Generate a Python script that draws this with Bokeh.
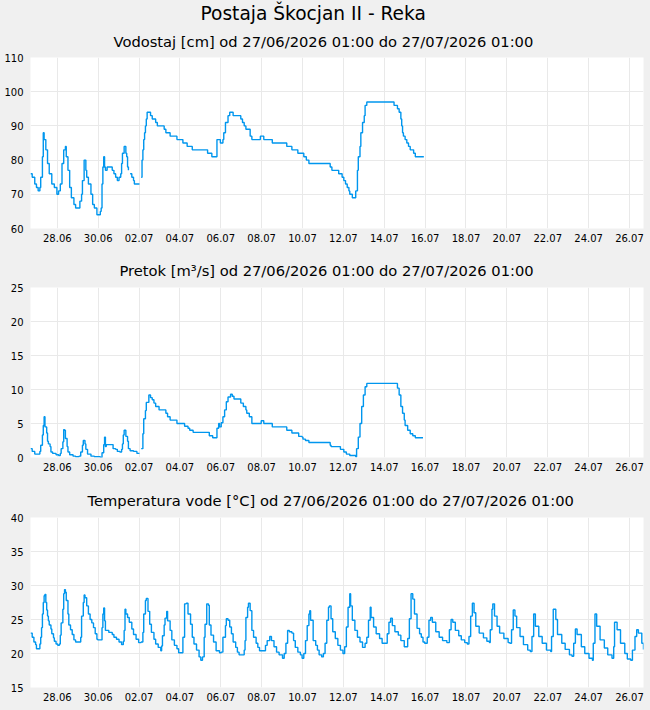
import pandas as pd
from bokeh.plotting import figure
from bokeh.layouts import column
from bokeh.models import Title, FixedTicker, DatetimeTickFormatter, Range1d, ColumnDataSource
from bokeh.embed import file_html
from bokeh.resources import INLINE

# --- labels -----------------------------------------------------------------
station = "Postaja Škocjan II - Reka"
period = "od 27/06/2026 01:00 do 27/07/2026 01:00"
panel_titles = ["Vodostaj [cm]", "Pretok [m³/s]", "Temperatura vode [°C]"]

t_start = pd.Timestamp("2026-06-27 01:00")
t_end = pd.Timestamp("2026-07-27 01:00")
tick_dates = pd.date_range("2026-06-28 08:30", "2026-07-26 08:30", freq="2D")

# --- water level [cm]: hours since t_start, value (None = missing reading) --
level_hours = [0, 2, 5, 7, 9, 11, 12, 14, 15, 16, 18, 20, 22, 25, 28, 31, 33, 35, 37, 39,
               41, 42, 44, 46, 48, 51, 53, 56, 58, 60, 61, 63, 65, 66, 68, 71, 73, 75, 78, 80,
               82, 83, 84, 85, 86, 87, 88, 90, 94, 96, 98, 100, 102, 104, 106, 107, 108, 110, 112, 113,
               114, 115, 116, 117, 119, 121, 122, 128, 129, 130, 131, 132, 133, 134, 135, 136, 137, 140, 141, 143,
               147, 149, 157, 159, 164, 172, 179, 184, 190, 208, 213, 219, 221, 223, 226, 227, 229, 232, 234, 236,
               238, 245, 247, 249, 251, 253, 258, 260, 270, 274, 284, 301, 307, 314, 321, 324, 327, 352, 354, 362,
               366, 368, 370, 372, 374, 375, 378, 382, 384, 385, 387, 388, 390, 392, 393, 395, 427, 431, 433, 435,
               436, 437, 438, 440, 442, 444, 446, 450, 452, 462]
level_values = [76, 75, 73, 72, 71, 72, 75, 81, 88, 86, 83, 79, 76, 73, 72, 70, 71, 73, 79, 83,
                84, 81, 77, 72, 69, 67, 66, 66, 68, 70, 74, 80, 77, 75, 73, 70, 67, 66, 64, 64,
                65, 66, 73, 78, 81, 78, 77, 78, 78, 77, 76, 75, 74, 75, 76, 79, 82, 84, 82, 81,
                78, 77, None, 76, 75, 74, 73, 73, None, 75, 80, 83, 86, 88, 90, 92, 94, 94, 93, 92,
                91, 90, 89, 88, 87, 86, 85, 84, 83, 82, 81, 86, 86, 85, 86, 88, 91, 93, 94, 94,
                93, 93, 92, 91, 90, 89, 87, 86, 87, 86, 85, 84, 83, 82, 81, 80, 79, 78, 77, 76,
                75, 74, 73, 72, 71, 70, 69, 71, 77, 81, 84, 88, 91, 93, 96, 97, 96, 95, 94, 92,
                90, 88, 87, 86, 85, 84, 83, 82, 81, 81]

# --- discharge [m3/s] ---------------------------------------------------------
flow_hours = [0, 2, 5, 10, 11, 12, 14, 15, 16, 17, 19, 20, 21, 23, 24, 26, 30, 33, 35, 36,
              38, 39, 40, 41, 43, 44, 46, 50, 53, 57, 59, 61, 62, 64, 65, 67, 71, 75, 82, 84,
              86, 87, 88, 89, 95, 97, 100, 102, 105, 107, 108, 109, 110, 112, 114, 115, 117, 121, 125, 128,
              129, 130, 132, 133, 135, 136, 139, 141, 143, 145, 147, 151, 159, 161, 164, 172, 181, 185, 187, 191,
              210, 214, 219, 221, 222, 224, 226, 228, 230, 232, 235, 237, 239, 247, 250, 253, 254, 257, 260, 271,
              274, 284, 301, 307, 315, 319, 320, 323, 327, 352, 353, 364, 368, 371, 375, 382, 383, 385, 387, 389,
              391, 393, 395, 431, 433, 435, 437, 439, 440, 443, 446, 449, 452, 461]
flow_values = [1.3, 0.9, 0.5, 0.5, 0.9, 1.8, 3.3, 4.7, 6.0, 4.5, 3.6, 2.4, 2.0, 1.6, 0.8, 0.6, 0.4, 0.3, 0.6, 1.3,
               2.3, 4.1, 4.0, 2.8, 1.6, 0.8, 0.4, 0.2, 0.1, 0.2, 0.8, 1.8, 2.5, 2.0, 1.2, 0.5, 0.2, 0.1, 0.0, 0.7,
               1.9, 3.0, 1.6, 1.9, 1.9, 1.3, 1.2, 0.9, 0.8, 1.2, 2.0, 3.3, 4.0, 3.1, 2.4, 1.3, 1.0, 0.9, 0.6, 0.6,
               None, 1.3, 3.5, 5.7, 6.9, 8.1, 9.2, 8.8, 8.5, 8.0, 7.5, 7.0, 6.5, 6.0, 5.5, 5.0, 4.6, 4.3, 4.0, 3.7,
               3.2, 2.9, 4.3, 5.0, 4.5, 5.1, 6.0, 7.0, 8.2, 8.9, 9.3, 9.0, 8.6, 8.0, 7.5, 7.0, 6.5, 6.0, 5.0, 5.4,
               5.0, 4.5, 4.0, 3.6, 3.1, 3.0, 2.7, 2.5, 2.2, 1.8, 1.6, 1.2, 0.8, 0.5, 0.3, 0.1, 1.3, 3.0, 5.0, 7.5,
               9.2, 10.4, 10.9, 10.2, 9.2, 7.5, 6.5, 5.5, 4.7, 4.0, 3.5, 3.2, 2.9, 2.9]

# --- water temperature [°C] ----------------------------------------------------
temp_hours = [0, 2, 4, 6, 7, 11, 12, 13, 14, 15, 16, 17, 18, 19, 20, 21, 22, 24, 25, 27,
              28, 30, 32, 34, 35, 36, 38, 39, 40, 41, 42, 44, 45, 47, 49, 51, 53, 59, 60, 62,
              63, 64, 66, 68, 70, 72, 74, 76, 78, 79, 84, 85, 86, 87, 88, 92, 96, 98, 101, 104,
              107, 109, 110, 111, 112, 114, 116, 119, 121, 124, 127, 130, 132, 133, 135, 136, 138, 140, 142, 145,
              147, 150, 153, 154, 155, 157, 158, 160, 161, 164, 166, 169, 172, 174, 179, 181, 183, 185, 188, 190,
              192, 195, 198, 200, 202, 204, 205, 207, 209, 210, 212, 215, 218, 222, 224, 226, 229, 230, 232, 234,
              236, 238, 241, 243, 245, 251, 252, 253, 255, 256, 258, 260, 262, 265, 267, 269, 276, 278, 281, 283,
              286, 289, 292, 296, 298, 300, 302, 304, 307, 309, 311, 314, 317, 319, 321, 323, 325, 327, 328, 329,
              332, 335, 337, 339, 342, 344, 346, 348, 350, 351, 353, 355, 358, 361, 364, 367, 369, 371, 373, 375,
              376, 378, 381, 384, 387, 390, 393, 395, 397, 399, 400, 403, 406, 410, 413, 419, 421, 423, 425, 428,
              432, 435, 439, 443, 445, 447, 449, 451, 454, 457, 459, 461, 463, 466, 468, 470, 472, 476, 480, 484,
              489, 492, 494, 496, 499, 503, 506, 510, 513, 515, 517, 519, 521, 523, 527, 532, 536, 539, 540, 542,
              543, 545, 548, 551, 556, 561, 563, 565, 567, 569, 571, 575, 579, 584, 587, 589, 591, 593, 597, 601,
              606, 611, 612, 614, 617, 619, 624, 628, 633, 636, 638, 640, 642, 647, 651, 656, 660, 661, 663, 665,
              669, 674, 678, 683, 685, 686, 689, 693, 698, 701, 705, 707, 710, 712, 714, 718, 720]
temp_values = [23.0, 22.4, 21.7, 21.3, 20.7, 21.4, 22.4, 23.8, 25.8, 27.5, 28.5, 28.7, 27.5, 26.4, 25.5, 24.8, 24.2, 23.6, 22.9, 22.3,
               21.8, 21.4, 21.2, 21.4, 22.7, 24.5, 26.5, 28.8, 29.4, 29.0, 27.8, 25.8, 24.2, 23.5, 22.8, 22.0, 21.7, 22.4, 25.5, 27.5,
               28.6, 28.2, 27.0, 25.8, 25.0, 24.5, 23.8, 22.9, 22.1, 22.0, 23.8, 25.8, 26.7, 24.8, 23.4, 23.1, 22.8, 22.4, 22.1, 21.7,
               21.3, 21.8, 23.4, 26.5, 25.8, 25.3, 24.6, 23.6, 22.8, 22.1, 21.6, 21.7, 23.1, 25.8, 27.8, 28.1, 26.2, 24.3, 23.1, 22.1,
               21.4, 20.9, 20.4, 21.1, 22.6, 24.2, 25.2, 26.2, 24.8, 23.4, 22.0, 21.2, 20.7, 20.1, 22.4, 27.3, 27.4, 25.8, 24.3, 22.4,
               21.4, 20.5, 19.5, 19.0, 19.5, 22.4, 24.3, 27.3, 27.1, 24.2, 22.7, 21.7, 20.4, 20.1, 20.2, 22.4, 24.1, 25.1, 24.9, 23.9,
               22.9, 21.7, 20.9, 20.2, 19.8, 20.5, 21.9, 25.3, 26.8, 27.4, 26.3, 23.4, 22.4, 21.5, 20.9, 20.4, 21.2, 21.9, 22.5, 21.9,
               21.0, 20.2, 19.8, 19.3, 20.0, 21.5, 23.4, 23.2, 23.0, 21.9, 20.9, 20.2, 19.8, 19.3, 20.0, 21.9, 24.1, 25.8, 26.3, 24.9,
               21.9, 21.2, 20.5, 19.8, 19.5, 20.0, 21.5, 24.9, 26.8, 27.0, 25.1, 23.2, 22.2, 21.2, 20.5, 20.0, 21.0, 23.9, 26.8, 28.8,
               27.0, 24.9, 23.4, 22.4, 21.7, 20.9, 21.5, 22.4, 24.9, 26.8, 25.3, 23.9, 22.9, 22.2, 21.5, 22.9, 24.6, 25.2, 24.1, 23.2,
               22.7, 21.9, 21.0, 22.2, 25.1, 28.8, 28.0, 25.8, 23.7, 22.9, 22.4, 21.7, 21.5, 22.4, 24.9, 25.3, 24.6, 23.2, 22.4, 21.9,
               21.6, 23.5, 25.0, 24.6, 23.4, 22.6, 22.0, 21.6, 21.4, 22.5, 25.5, 27.4, 26.0, 24.0, 23.0, 22.3, 21.8, 21.6, 23.5, 26.5,
               27.3, 25.5, 24.0, 23.0, 22.2, 21.6, 21.5, 23.5, 26.4, 25.5, 23.8, 22.5, 21.3, 20.5, 20.3, 22.5, 25.8, 24.0, 22.5, 21.5,
               20.5, 20.3, 22.5, 26.5, 25.0, 22.8, 21.5, 20.6, 19.8, 19.6, 21.5, 23.6, 22.8, 21.0, 20.0, 19.3, 19.0, 21.5, 25.8, 24.0,
               22.0, 20.8, 19.8, 19.3, 21.0, 24.6, 23.5, 21.5, 20.0, 19.2, 19.0, 20.5, 22.5, 23.5, 23.0, 21.5, 20.6]

y_ranges = [(60, 110), (0, 25), (15, 40)]
y_steps = [10, 5, 5]

LINE = "#0096ee"
BG = "#f0f0f0"
GRID = "#e9e9e9"
FONT = "DejaVu Sans"


def segments(hours, values):
    """Split a series at missing readings into continuous runs."""
    runs, xs, ys = [], [], []
    for h, v in zip(hours, values):
        if v is None:
            if xs:
                runs.append((xs, ys))
            xs, ys = [], []
            continue
        xs.append(t_start + pd.Timedelta(hours=h))
        ys.append(v)
    if xs:
        runs.append((xs, ys))
    return runs


def heading(text, size, left_offset, standoff):
    return Title(text=text, align="left", offset=left_offset, standoff=standoff,
                 text_font=FONT, text_font_size=size, text_font_style="normal",
                 text_color="#000000")


def make_panel(idx, hours, values, height, top, bottom, left, title_offset, title_standoff):
    lo, hi = y_ranges[idx]
    p = figure(width=650, height=height, x_axis_type="datetime",
               x_range=Range1d(t_start, t_end), y_range=Range1d(lo, hi),
               output_backend="svg", toolbar_location=None, title=None,
               min_border_top=top, min_border_bottom=bottom,
               min_border_left=left, min_border_right=7)
    p.background_fill_color = "white"
    p.border_fill_color = BG
    p.outline_line_color = None

    for xs, ys in segments(hours, values):
        src = ColumnDataSource(dict(t=xs, v=ys))
        p.step("t", "v", source=src, mode="after", line_color=LINE, line_width=1.4)

    p.xaxis.ticker = FixedTicker(ticks=[int(d.value // 10**6) for d in tick_dates])
    fmt = "%d.%m"
    p.xaxis.formatter = DatetimeTickFormatter(days=fmt, months=fmt, hours=fmt, hourmin=fmt,
                                              minutes=fmt, years=fmt)
    p.yaxis.ticker = FixedTicker(ticks=list(range(lo, hi + 1, y_steps[idx])))

    for ax in (p.xaxis[0], p.yaxis[0]):
        ax.axis_line_color = None
        ax.major_tick_line_color = None
        ax.minor_tick_line_color = None
        ax.major_tick_out = 0
        ax.major_tick_in = 0
        ax.minor_tick_out = 0
        ax.minor_tick_in = 0
        ax.major_label_text_font = FONT
        ax.major_label_text_font_size = "10px"
        ax.major_label_text_color = "#000000"
    p.xaxis.major_label_standoff = 5
    p.yaxis.major_label_standoff = 7

    p.xgrid.grid_line_color = GRID
    p.ygrid.grid_line_color = GRID

    p.add_layout(heading(f"{panel_titles[idx]} {period}", "14.7px", title_offset, title_standoff), "above")
    return p


p1 = make_panel(0, level_hours, level_values, 250, 56, 22, 30, 83, 15)
p1.add_layout(heading(station, "18.6px", 170, 0), "above")
p2 = make_panel(1, flow_hours, flow_values, 230, 36, 23, 24, 89, 18)
p3 = make_panel(2, temp_hours, temp_values, 230, 36, 23, 24, 57, 18)

layout = column(p1, p2, p3, spacing=0, styles={"background-color": BG})
open("out.html", "w").write(file_html(layout, INLINE))
